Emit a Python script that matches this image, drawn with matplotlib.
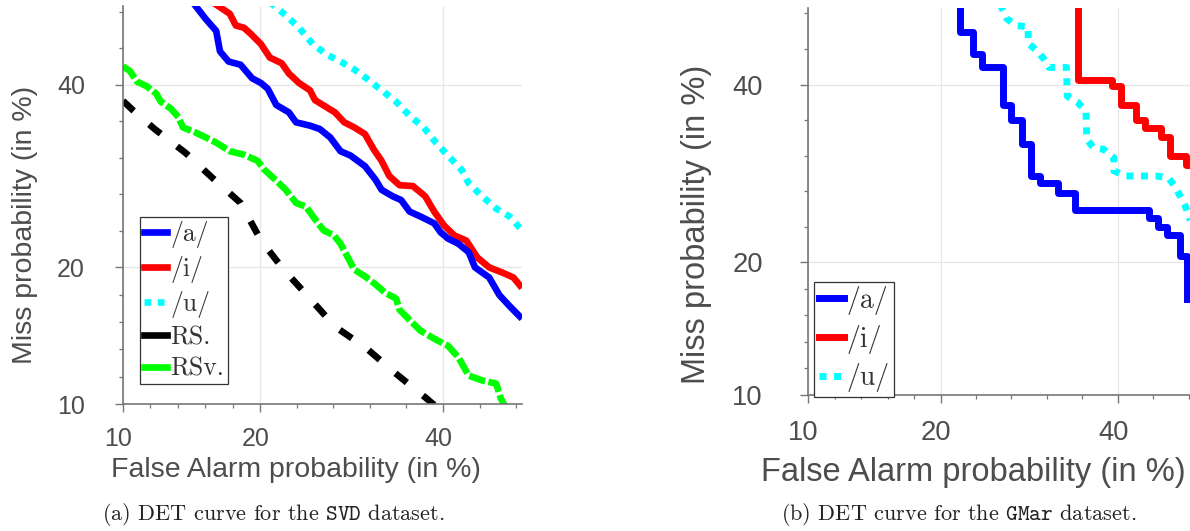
import matplotlib
matplotlib.use('Agg')
import matplotlib.pyplot as plt
import matplotlib.transforms as mtransforms
from matplotlib.lines import Line2D
from statistics import NormalDist
import numpy as np

# ---- SVD dataset (percent) ----
svd_a_fa = [14.5, 15.5, 16.3, 16.6, 17.3, 18.3, 19.3, 20.1, 20.7, 21.5, 22.7, 23.4, 24.8, 25.8, 26.9, 28.0, 29.1,
            30.7, 31.9, 32.6, 33.9, 34.9, 35.9, 37.2, 38.9, 39.7, 40.6, 41.9, 43.2, 44.0, 45.8, 47.1, 48.4, 50.0]
svd_a_miss = [50.5, 48.3, 46.8, 44.2, 42.9, 42.5, 40.8, 40.2, 39.5, 37.5, 36.6, 35.4, 35.0, 34.6, 33.6, 32.0, 31.5,
              30.3, 28.8, 27.7, 27.0, 26.6, 25.4, 24.9, 24.2, 23.3, 22.7, 22.2, 21.4, 20.0, 19.1, 17.6, 16.7, 15.7]
svd_i_fa = [16.0, 17.4, 17.9, 18.6, 19.2, 20.1, 20.9, 22.0, 22.7, 23.7, 24.8, 25.3, 26.4, 27.4, 28.4, 29.5,
            30.7, 31.7, 32.6, 33.5, 34.7, 36.3, 37.8, 38.9, 40.1, 41.4, 42.9, 44.3, 45.8, 47.6, 48.9, 50.0]
svd_i_miss = [50.5, 49.0, 47.5, 47.2, 46.4, 45.1, 43.4, 42.7, 41.4, 40.2, 39.3, 38.1, 37.3, 36.6, 35.4, 34.8,
              34.0, 32.2, 30.9, 29.2, 28.2, 28.1, 27.0, 25.4, 24.0, 23.0, 22.5, 20.9, 20.0, 19.5, 19.1, 18.2]
svd_u_fa = [20.9, 22.4, 23.7, 25.1, 26.5, 28.0, 29.5, 31.1, 32.6, 34.3, 35.9, 37.6, 39.1, 40.6, 42.3, 43.2,
            44.9, 46.7, 48.4, 50.0]
svd_u_miss = [50.5, 48.8, 47.2, 45.1, 43.8, 42.9, 41.9, 40.6, 39.3, 37.9, 36.2, 34.8, 33.0, 31.5, 29.9, 28.4,
              27.0, 25.7, 24.9, 23.5]
svd_rs_fa = [10.0, 10.6, 11.9, 14.0, 16.0, 18.3, 20.1, 22.2, 24.8, 27.4, 30.9, 34.1, 38.0, 39.0]
svd_rs_miss = [38.0, 36.8, 34.6, 31.8, 29.0, 26.3, 22.5, 19.8, 17.3, 15.1, 13.5, 11.9, 10.3, 9.9]
svd_rsv_fa = [10.0, 10.4, 10.8, 11.4, 12.0, 12.3, 13.0, 13.5, 13.8, 14.7, 15.5, 16.3, 17.4, 18.6, 19.8, 20.4,
              21.4, 22.4, 23.4, 24.4, 25.1, 26.2, 27.3, 28.0, 28.8, 29.5, 30.7, 31.9, 33.0, 34.3, 34.7, 35.9,
              37.2, 38.9, 40.6, 41.9, 43.2, 44.9, 46.7, 47.3, 47.8]
svd_rsv_miss = [42.3, 41.7, 40.4, 39.8, 38.9, 37.9, 37.0, 36.0, 34.8, 34.2, 33.6, 33.0, 32.0, 31.6, 30.9, 29.9,
                28.8, 27.7, 26.3, 25.9, 24.9, 23.5, 23.0, 22.2, 20.9, 19.8, 19.2, 18.5, 17.8, 17.3, 16.4, 15.6,
                14.8, 14.2, 13.7, 12.9, 11.7, 11.4, 11.2, 10.3, 9.9]

# ---- GMar dataset (percent), step curves ----
gmar_a_fa = [21.9, 23.2, 24.1, 26.3, 27.2, 28.4, 29.4, 30.5, 32.6, 34.7, 44.1, 45.2, 46.4, 48.2, 49.1, 49.1]
gmar_a_miss = [52.0, 46.8, 44.0, 42.2, 37.4, 35.5, 32.6, 28.9, 28.1, 27.0, 25.2, 24.3, 23.4, 22.6, 20.6, 16.8]
gmar_i_fa = [35.0, 39.3, 40.4, 42.4, 43.6, 45.7, 46.8, 48.9, 50.0]
gmar_i_miss = [52.0, 40.6, 39.8, 37.4, 35.5, 34.5, 33.5, 31.2, 30.1]
gmar_u_fa = [26.0, 26.7, 27.7, 29.1, 29.1, 30.1, 30.9, 31.5, 33.6, 33.7, 34.9, 36.0, 36.1, 36.9, 38.2, 39.5,
             39.5, 40.9, 45.0, 46.6, 47.5, 48.2, 48.9, 49.5]
gmar_u_miss = [50.5, 48.6, 47.7, 47.5, 45.3, 44.4, 43.3, 42.2, 42.2, 38.5, 37.8, 36.6, 33.2, 32.2, 32.0, 31.0,
               29.5, 28.9, 28.9, 28.7, 27.7, 26.6, 25.5, 24.1]

tick_vals = [10, 20, 40]
tick_labels = ['10', '20', '40']

nd = NormalDist()


def probit(p):
    return np.array([nd.inv_cdf(v / 100.0) for v in p])


TXT = '#4d4d4d'
AXC = '#777777'

fig = plt.figure(figsize=(11.9, 5.31), dpi=100)
ax1 = fig.add_axes([123 / 1190, (531 - 404) / 531, 399 / 1190, 398 / 531])
ax2 = fig.add_axes([808 / 1190, (531 - 395) / 531, 386 / 1190, 387 / 531])


def setup_axes(ax, tsize, lsize, xpad, ypad, xlab_pos, ylab_pos):
    zt = probit(tick_vals)
    minor = []
    for lo, hi in zip(zt[:-1], zt[1:]):
        minor += list(np.linspace(lo, hi, 6)[1:-1])
    step = (zt[-1] - zt[-2]) / 5
    k = zt[-1] + step
    while k < 0:
        minor.append(k)
        k += step
    lim = (probit([10])[0], 0.0)
    ax.set_xlim(lim)
    ax.set_ylim(lim)
    ax.set_xticks(zt, tick_labels)
    ax.set_yticks(zt, tick_labels)
    ax.set_xticks(minor, minor=True)
    ax.set_yticks(minor, minor=True)
    ax.grid(True, which='major', color='#e6e6e6', lw=0.9)
    ax.set_axisbelow(True)
    for s in ['top', 'right']:
        ax.spines[s].set_visible(False)
    for s in ['left', 'bottom']:
        ax.spines[s].set_color(AXC)
        ax.spines[s].set_linewidth(1.2)
    ax.tick_params(which='major', direction='out', length=5.8, width=1.0, color=AXC,
                   labelsize=tsize, labelcolor=TXT)
    ax.tick_params(which='minor', direction='out', length=3, width=0.9, color=AXC)
    ax.tick_params(axis='x', which='major', pad=xpad)
    ax.tick_params(axis='y', which='major', pad=ypad)
    for lab in ax.get_xticklabels() + ax.get_yticklabels():
        lab.set_fontfamily('Liberation Sans')
    off = mtransforms.ScaledTranslation(-4.5 / 100, 0, fig.dpi_scale_trans)
    for lab in ax.get_xticklabels():
        lab.set_transform(lab.get_transform() + off)
    ax.text(xlab_pos[0], xlab_pos[1], 'False Alarm probability (in %)', transform=ax.transAxes,
            ha='center', va='baseline', fontsize=lsize, color=TXT, family='Liberation Sans')
    ax.text(ylab_pos[0], ylab_pos[1], 'Miss probability (in %)', transform=ax.transAxes,
            ha='center', va='center', rotation=90, fontsize=lsize, color=TXT, family='Liberation Sans')


setup_axes(ax1, 18, 20.5, 10.8, 21.6, (0.434, -0.1827), (-0.2456, 0.45))
setup_axes(ax2, 19.7, 23.5, 12, 26.6, (0.429, -0.222), (-0.29, 0.442))

# left panel curves
lw1 = 4.8
ax1.plot(probit(svd_rsv_fa), probit(svd_rsv_miss), color=(0, 1, 0), lw=lw1, ls=(0, (2.5, 0.5)))
ax1.plot(probit(svd_rs_fa), probit(svd_rs_miss), color='black', lw=lw1, ls=(0, (2.2, 3.1)))
ax1.plot(probit(svd_u_fa), probit(svd_u_miss), color=(0, 1, 1), lw=lw1, ls=(0, (1, 1)))
ax1.plot(probit(svd_i_fa), probit(svd_i_miss), color='red', lw=lw1, solid_capstyle='butt')
ax1.plot(probit(svd_a_fa), probit(svd_a_miss), color='blue', lw=lw1, solid_capstyle='butt')

h1 = [Line2D([], [], color='blue', lw=lw1),
      Line2D([], [], color='red', lw=lw1),
      Line2D([], [], color=(0, 1, 1), lw=lw1, ls=(0, (1, 1))),
      Line2D([], [], color='black', lw=lw1),
      Line2D([], [], color=(0, 1, 0), lw=lw1)]
leg1 = ax1.legend(h1, ['/a/', '/i/', '/u/', 'RS.', 'RSv.'], loc='lower left',
                  bbox_to_anchor=(0.043, 0.049), borderaxespad=0, fancybox=False, framealpha=1,
                  edgecolor='#333333', prop={'family': 'cmr10', 'size': 18.5}, handlelength=0.9,
                  handletextpad=0.12, borderpad=0.15, labelspacing=0.3, labelcolor='#333333')
leg1.get_frame().set_linewidth(0.9)

# right panel curves
lw2 = 5
ax2.plot(probit(gmar_u_fa), probit(gmar_u_miss), color=(0, 1, 1), lw=lw2, ls=(0, (1, 1.1)))
ax2.plot(probit(gmar_i_fa), probit(gmar_i_miss), color='red', lw=lw2, drawstyle='steps-pre')
ax2.plot(probit(gmar_a_fa), probit(gmar_a_miss), color='blue', lw=lw2, drawstyle='steps-pre')

h2 = [Line2D([], [], color='blue', lw=lw2),
      Line2D([], [], color='red', lw=lw2),
      Line2D([], [], color=(0, 1, 1), lw=lw2, ls=(0, (1, 1.1)))]
leg2 = ax2.legend(h2, ['/a/', '/i/', '/u/'], loc='lower left',
                  bbox_to_anchor=(0.0165, -0.004), borderaxespad=0, fancybox=False, framealpha=1,
                  edgecolor='#333333', prop={'family': 'cmr10', 'size': 20}, handlelength=0.9,
                  handletextpad=0.12, borderpad=0.15, labelspacing=0.35, labelcolor='#333333')
leg2.get_frame().set_linewidth(0.9)

# captions
plt.rcParams['mathtext.fontset'] = 'cm'
fig.text(273 / 1190, 11 / 531, r'(a) DET curve for the $\mathtt{SVD}$ dataset.', ha='center', va='baseline',
         fontsize=16, family='cmr10', color='#222222')
fig.text(959 / 1190, 11 / 531, r'(b) DET curve for the $\mathtt{GMar}$ dataset.', ha='center', va='baseline',
         fontsize=16, family='cmr10', color='#222222')

fig.savefig('out.png', dpi=100)
